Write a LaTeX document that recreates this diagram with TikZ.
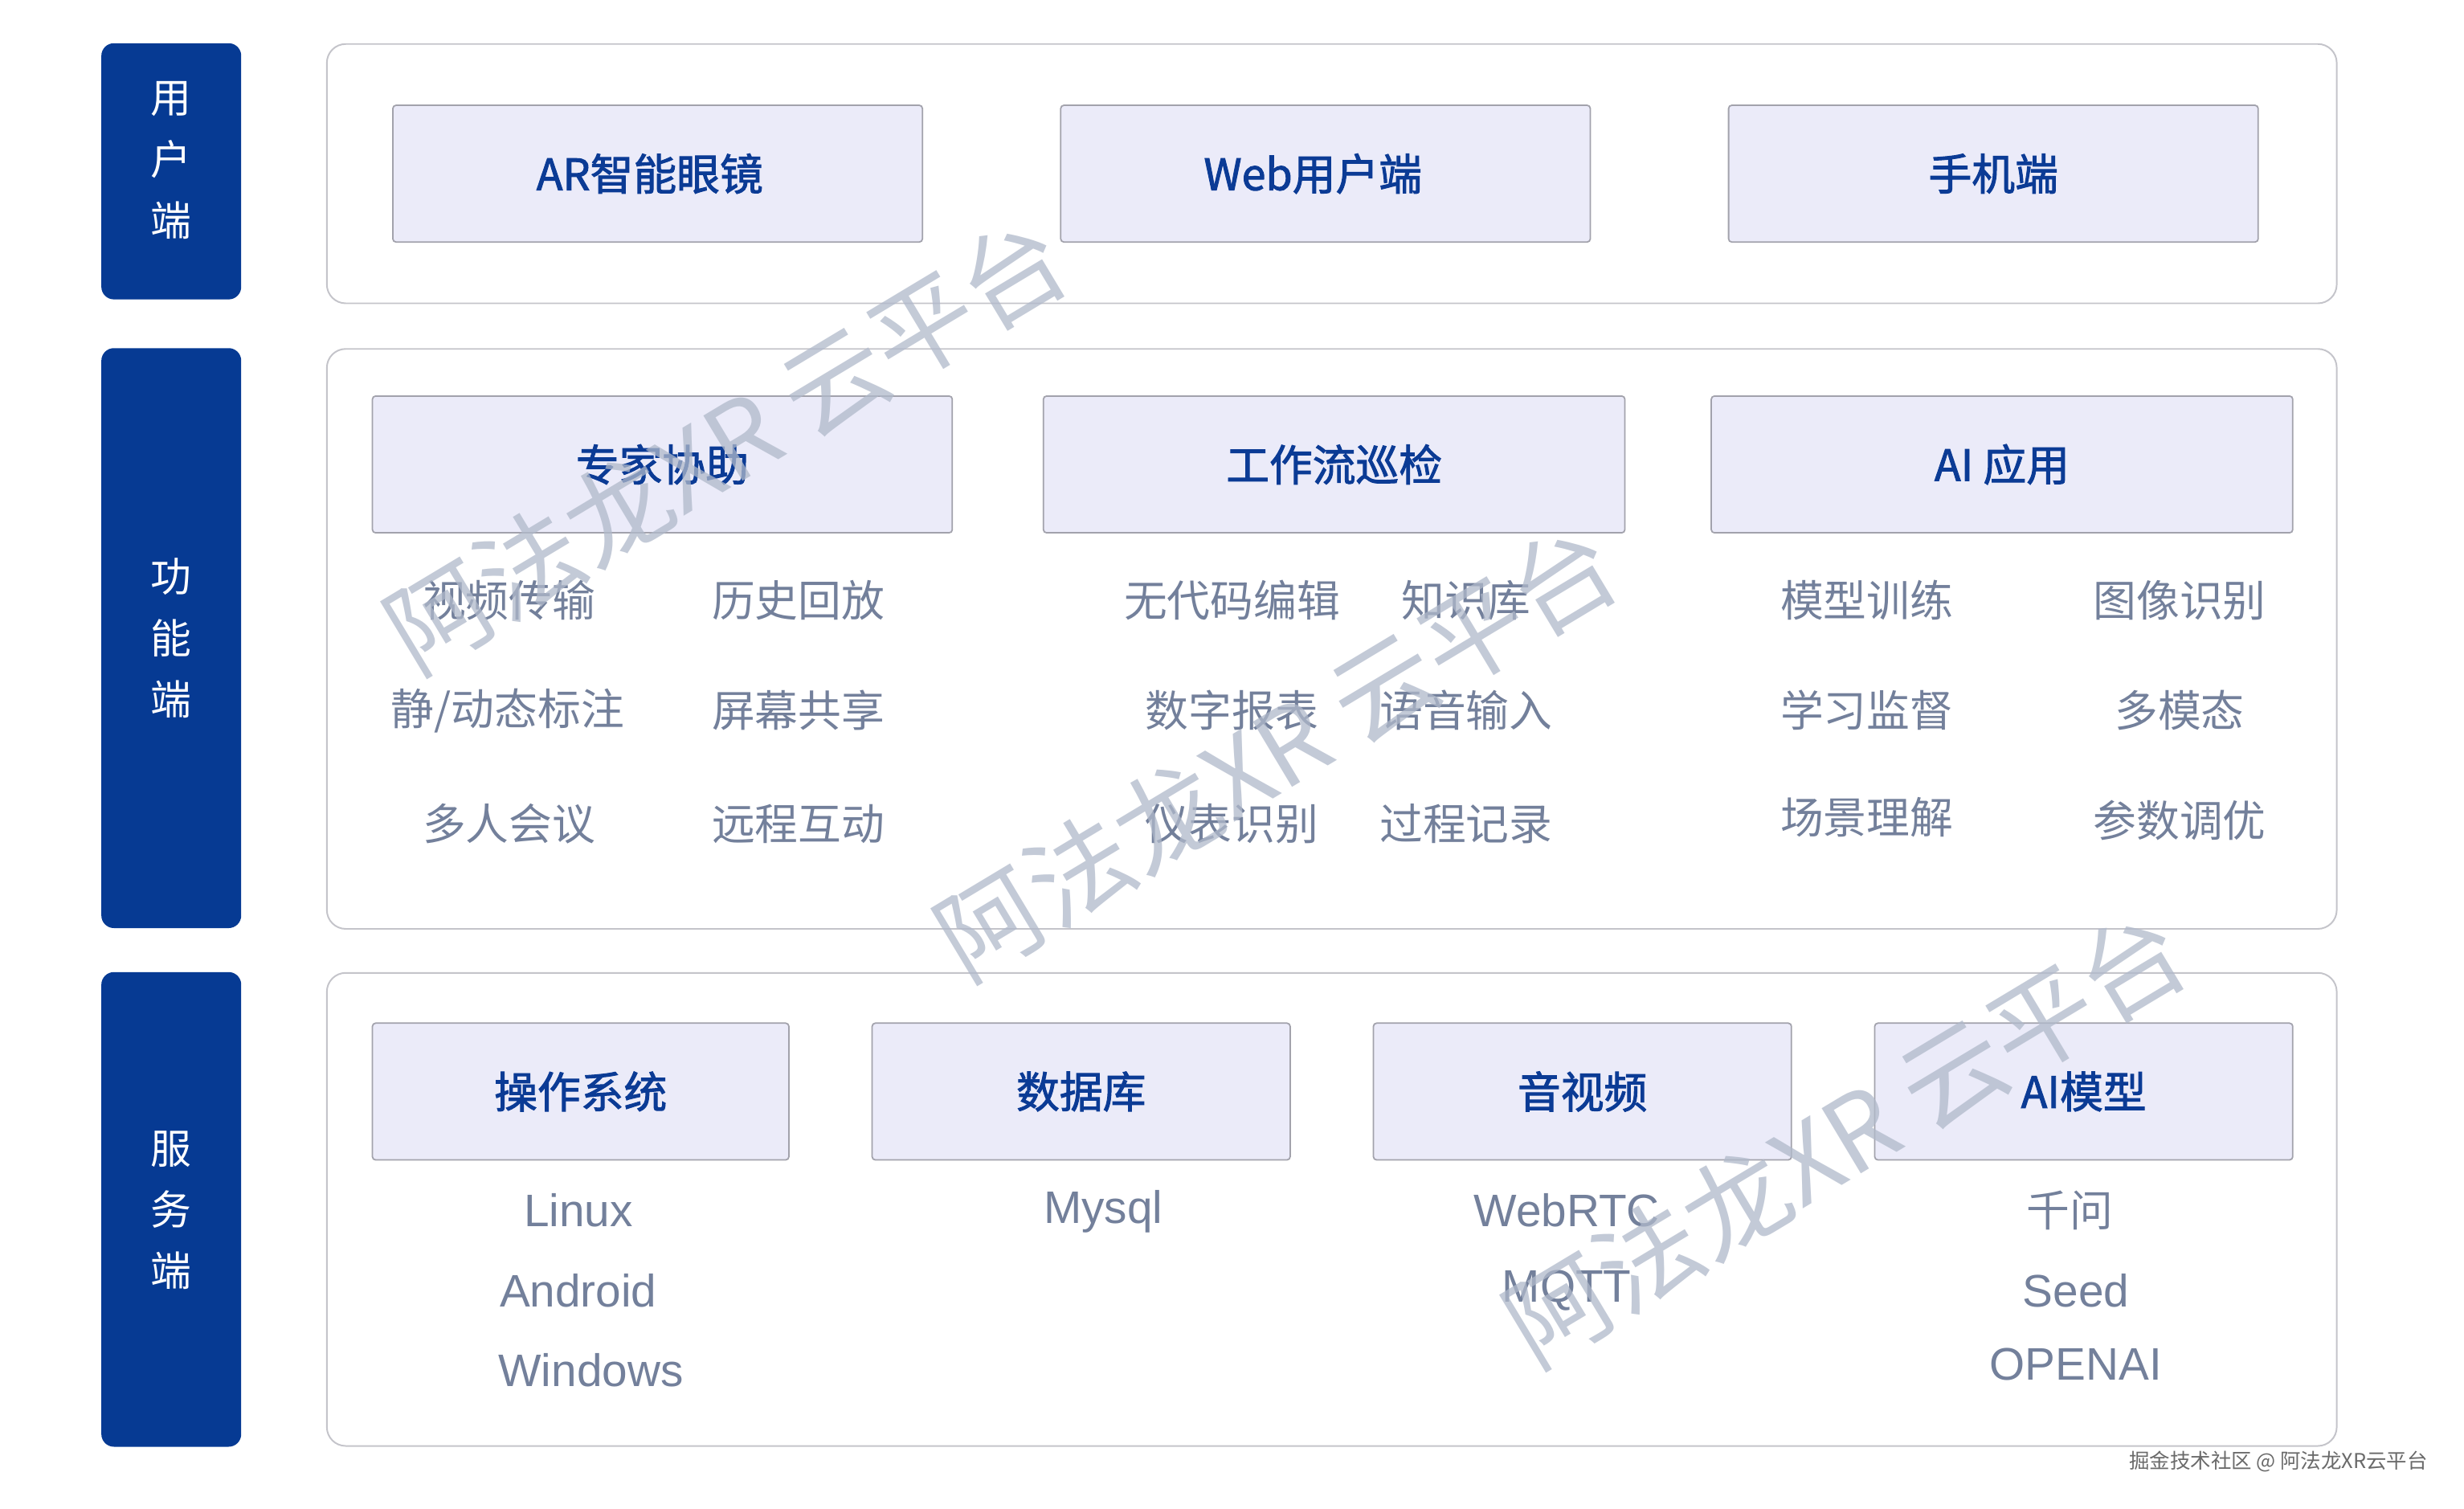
\documentclass[tikz,border=0pt]{standalone}
\usepackage{fontspec}
\setmainfont{Noto Sans CJK SC}
\newfontfamily\cjkfont{Noto Sans CJK SC}
\newfontfamily\titlefont[FakeBold=1.8]{Noto Sans CJK SC}
\newfontfamily\latinfont{Liberation Sans}
\definecolor{sideblue}{HTML}{063A93}
\definecolor{titleblue}{HTML}{0B3B95}
\definecolor{boxfill}{HTML}{EBEBF9}
\definecolor{boxborder}{HTML}{A2A2AC}
\definecolor{panelgray}{HTML}{C4C4CA}
\definecolor{itemgray}{HTML}{73809B}
\definecolor{wmcolor}{HTML}{B0B9CA}
\definecolor{footgray}{HTML}{6A6A6A}
\tikzset{
  sidebar/.style={fill=sideblue, draw=none, rounded corners=8pt, inner sep=0pt},
  sidetext/.style={text=white, font=\cjkfont\fontsize{26}{39}\selectfont, align=center, inner sep=0pt},
  panel/.style={draw=panelgray, fill=white, rounded corners=12pt, line width=1pt},
  tbox/.style={draw=boxborder, fill=boxfill, rounded corners=2pt, line width=0.9pt, inner sep=0pt,
    text=titleblue, font=\titlefont\fontsize{27.5}{32}\selectfont},
  item/.style={text=itemgray, font=\cjkfont\fontsize{27.5}{32}\selectfont, inner sep=0pt},
  litem/.style={text=itemgray, font=\latinfont\fontsize{29}{34}\selectfont, inner sep=0pt},
  wm/.style={text=wmcolor, opacity=0.75, font=\cjkfont\fontsize{66}{76}\selectfont, rotate=31, inner sep=0pt},
  foot/.style={text=footgray, font=\cjkfont\fontsize{13}{15}\selectfont, inner sep=0pt},
}
\begin{document}
\begin{tikzpicture}[x=1pt,y=-1pt]
\useasboundingbox (0,0) rectangle (1568,960);
% sidebars
\node[sidebar, minimum width=89, minimum height=163] (s1) at (109,109) {};
\node[sidebar, minimum width=89, minimum height=369] (s2) at (109,406) {};
\node[sidebar, minimum width=89, minimum height=302] (s3) at (109,769.5) {};
\node[sidetext] (s1t) at (109,102) {用\\户\\端};
\node[sidetext] (s2t) at (109,406) {功\\能\\端};
\node[sidetext] (s3t) at (109,770) {服\\务\\端};
% panels
\draw[panel] (208,28) rectangle (1487,193);
\draw[panel] (208,222) rectangle (1487,591);
\draw[panel] (208,619) rectangle (1487,920);
% row 1
\node[tbox, minimum width=337, minimum height=87] (ar) at (418.5,110.5) {\hspace*{-10pt}AR智能眼镜};
\node[tbox, minimum width=337, minimum height=87] (web) at (843.5,110.5) {\hspace*{-16pt}Web用户端};
\node[tbox, minimum width=337, minimum height=87] (mob) at (1268.5,110.5) {手机端};
% row 2
\node[tbox, minimum width=369, minimum height=87] (zj) at (421.5,295.5) {专家协助};
\node[tbox, minimum width=370, minimum height=87] (gz) at (849,295.5) {工作流巡检};
\node[tbox, minimum width=370, minimum height=87] (ai) at (1274,295.5) {AI 应用};
\node[item] (a1) at (324,382) {视频传输};
\node[item] (a2) at (508,382) {历史回放};
\node[item] (a3) at (323,452) {静/动态标注};
\node[item] (a4) at (508,452) {屏幕共享};
\node[item] (a5) at (324,524) {多人会议};
\node[item] (a6) at (508,524) {远程互动};
\node[item] (b1) at (784,382) {无代码编辑};
\node[item] (b2) at (933,382) {知识库};
\node[item] (b3) at (784,452) {数字报表};
\node[item] (b4) at (933,452) {语音输入};
\node[item] (b5) at (784,524) {仪表识别};
\node[item] (b6) at (933,524) {过程记录};
\node[item] (c1) at (1188,382) {模型训练};
\node[item] (c2) at (1387,382) {图像识别};
\node[item] (c3) at (1188,452) {学习监督};
\node[item] (c4) at (1387,452) {多模态};
\node[item] (c5) at (1188,520) {场景理解};
\node[item] (c6) at (1387,522) {参数调优};
% row 3
\node[tbox, minimum width=265, minimum height=87] (os) at (369.5,694.5) {操作系统};
\node[tbox, minimum width=266, minimum height=87] (db) at (688,694.5) {数据库};
\node[tbox, minimum width=266, minimum height=87] (av) at (1007,694.5) {音视频};
\node[tbox, minimum width=266, minimum height=87] (am) at (1326,694.5) {AI模型};
\node[litem] (d1) at (368,770) {Linux};
\node[litem] (d2) at (368,821) {Android};
\node[litem] (d3) at (376,872) {Windows};
\node[litem] (e1) at (702,771) {Mysql};
\node[litem] (f1) at (997,770) {WebRTC};
\node[litem] (f2) at (997,821) {MQTT};
\node[item] (g1) at (1317,770) {千问};
\node[litem] (g2) at (1321,821) {Seed};
\node[litem] (g3) at (1321,868) {OPENAI};
% watermarks
\node[wm] (w1) at (462,283) {阿法龙XR 云平台};
\node[wm] (w2) at (812,478) {阿法龙XR 云平台};
\node[wm] (w3) at (1174,724) {阿法龙XR 云平台};
% footer
\node[foot, anchor=east] (ft) at (1545,930) {掘金技术社区 @ 阿法龙XR云平台};
\end{tikzpicture}
\end{document}
